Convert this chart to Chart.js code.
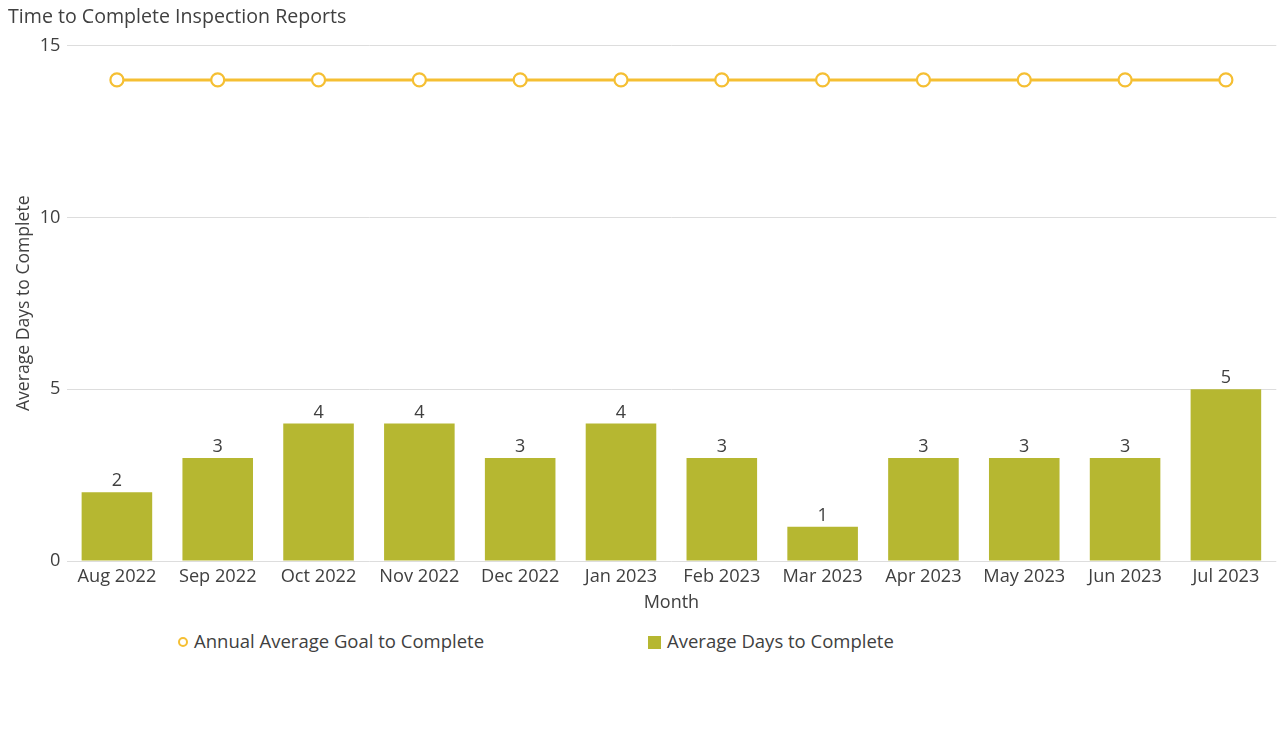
<!DOCTYPE html>
<html>
<head>
<meta charset="utf-8">
<script src="https://cdn.jsdelivr.net/npm/chart.js@4/dist/chart.umd.min.js"></script>
<style>
  html, body { margin: 0; padding: 0; background: #fff; }
  body { width: 1285px; height: 739px; position: relative; overflow: hidden; font-family: "Open Sans", sans-serif; }
  #wrap { position: absolute; left: 0; top: 0; width: 1285px; height: 620px; }
  .legend { position: absolute; top: 629px; font-size: 18.5px; color: #404040; line-height: 24px; white-space: nowrap; }
  .legend .ico { display: inline-block; vertical-align: middle; margin-right: 6px; position: relative; top: -1px; }
  #lg1 { left: 178px; }
  #lg2 { left: 648px; }
  .circ { width: 6px; height: 6px; border: 2px solid #f5bf33; border-radius: 50%; background: #fff; }
  .sq { width: 13px; height: 13px; background: #b6b731; }
</style>
</head>
<body>
<div id="wrap"><canvas id="c" width="1285" height="620"></canvas></div>
<div class="legend" id="lg1"><span class="ico circ"></span>Annual Average Goal to Complete</div>
<div class="legend" id="lg2"><span class="ico sq"></span>Average Days to Complete</div>
<script>
const categories = ["Aug 2022","Sep 2022","Oct 2022","Nov 2022","Dec 2022","Jan 2023","Feb 2023","Mar 2023","Apr 2023","May 2023","Jun 2023","Jul 2023"];
const avgDays = [2,3,4,4,3,4,3,1,3,3,3,5];
const goalDays = [14,14,14,14,14,14,14,14,14,14,14,14];
const yTicks = [0,5,10,15];

const textColor = '#404040';
const fontFamily = '"Open Sans", sans-serif';

const barLabels = {
  id: 'barLabels',
  afterDatasetsDraw(chart) {
    const ctx = chart.ctx;
    const meta = chart.getDatasetMeta(1);
    ctx.save();
    ctx.font = '18px ' + fontFamily;
    ctx.fillStyle = textColor;
    ctx.textAlign = 'center';
    ctx.textBaseline = 'middle';
    meta.data.forEach((bar, i) => {
      ctx.fillText(String(avgDays[i]), bar.x, bar.y - 11);
    });
    ctx.restore();
  }
};

new Chart(document.getElementById('c'), {
  data: {
    labels: categories,
    datasets: [
      {
        type: 'line',
        label: 'Annual Average Goal to Complete',
        data: goalDays,
        borderColor: '#f5bf33',
        borderWidth: 3,
        pointRadius: 6.5,
        pointHoverRadius: 6.5,
        pointBackgroundColor: '#ffffff',
        pointBorderColor: '#f5bf33',
        pointBorderWidth: 2.2,
        tension: 0,
        order: 0
      },
      {
        type: 'bar',
        label: 'Average Days to Complete',
        data: avgDays,
        backgroundColor: '#b6b731',
        barPercentage: 0.7,
        categoryPercentage: 1.0,
        order: 1
      }
    ]
  },
  options: {
    responsive: false,
    animation: false,
    layout: { padding: { left: 8, right: 2.5, top: 0, bottom: 0 } },
    plugins: {
      legend: { display: false },
      tooltip: { enabled: false },
      title: {
        display: true,
        text: 'Time to Complete Inspection Reports',
        align: 'start',
        color: textColor,
        font: { family: fontFamily, size: 19.6, weight: 'normal' },
        padding: { top: 6, bottom: 16 }
      }
    },
    scales: {
      x: {
        grid: { display: false, drawTicks: false },
        border: { display: false },
        ticks: { color: textColor, font: { family: fontFamily, size: 18.2 }, padding: 5, maxRotation: 0 },
        title: { display: true, text: 'Month', color: textColor, font: { family: fontFamily, size: 18 }, padding: { top: 0, bottom: 6 } },
        afterFit(scale) { scale.height = 59; }
      },
      y: {
        min: 0,
        max: 15,
        afterBuildTicks(scale) { scale.ticks = yTicks.map(v => ({ value: v })); },
        grid: { color: '#dddddd', lineWidth: 1, drawTicks: false },
        border: { display: false },
        ticks: { color: textColor, font: { family: fontFamily, size: 18.2 }, padding: 6 },
        title: { display: true, text: 'Average Days to Complete', color: textColor, font: { family: fontFamily, size: 17.6 }, padding: { top: 5, bottom: 0 } },
        afterFit(scale) { scale.width = 58.5; }
      }
    }
  },
  plugins: [barLabels]
});
</script>
</body>
</html>
